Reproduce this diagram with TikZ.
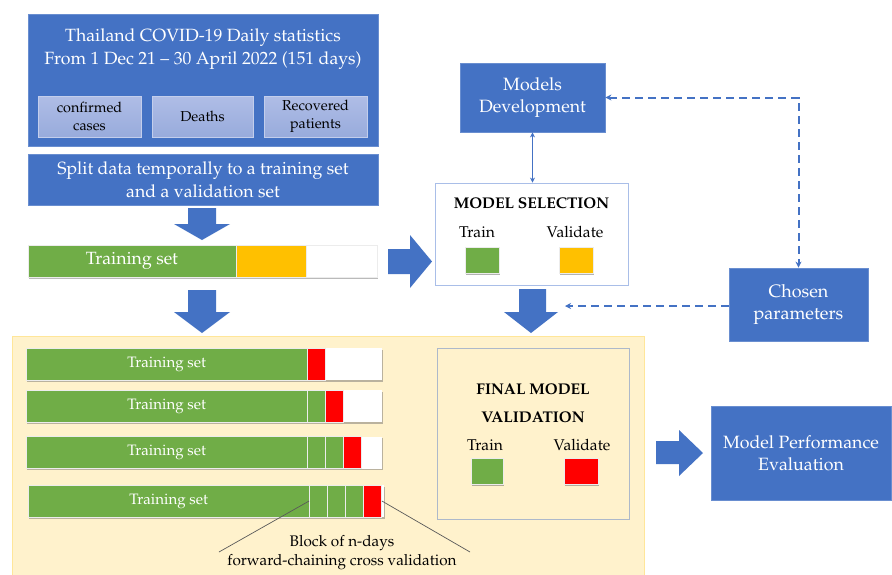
\documentclass[tikz,border=0pt]{standalone}
\usepackage[T1]{fontenc}
\usepackage{mathpazo}
\usetikzlibrary{shadows,arrows.meta}
\definecolor{cblue}{HTML}{4472C4}
\definecolor{cgreen}{HTML}{70AD47}
\definecolor{cyellow}{HTML}{FFC000}
\definecolor{cred}{HTML}{FF0000}
\definecolor{bgyel}{HTML}{FFF2CC}
\definecolor{bgyelline}{HTML}{FFE699}
\definecolor{subtop}{HTML}{AFBDE6}
\definecolor{subbot}{HTML}{98ABDC}
\definecolor{subline}{HTML}{C3CEEC}
\definecolor{msline}{HTML}{A9BEE8}
\definecolor{fmline}{HTML}{ADB9CA}
\tikzset{
  bluebox/.style={fill=cblue, draw=cblue!80!white, line width=0.8pt, text=white, align=center, inner sep=0pt, font=\fontsize{17.8}{21.5}\selectfont},
  subbox/.style={top color=subtop, bottom color=subbot, draw=subline, line width=0.8pt, align=center, inner sep=0pt, font=\fontsize{14.4}{18}\selectfont},
  cell/.style={draw=white!85!gray, line width=0.8pt, inner sep=0pt},
  sqshadow/.style={drop shadow={shadow xshift=1.2pt, shadow yshift=-1.8pt, opacity=0.5, fill=black!60}},
  blockarrow/.style={fill=cblue, draw=none},
  dashconn/.style={draw=cblue, line width=2pt, dash pattern=on 8pt off 5pt},
  lbl/.style={font=\fontsize{15.6}{18}\selectfont, inner sep=0pt},
  ttl/.style={font=\bfseries\fontsize{15.5}{28}\selectfont, align=center, inner sep=0pt},
}
\begin{document}
\begin{tikzpicture}[x=1pt,y=-1pt]
\useasboundingbox (0,0) rectangle (892,574);
\fill[white] (0,0) rectangle (892,574);

% top data box
\node[bluebox, minimum width=350, minimum height=132] (data) at (203,80) {};
\node[text=white, align=center, inner sep=0pt, font=\fontsize{17.7}{23}\selectfont] (title) at (203,49) {Thailand COVID-19 Daily statistics\\From 1 Dec 21 -- 30 April 2022 (151 days)};
\node[subbox, minimum width=103, minimum height=41] (conf) at (89.5,116.5) {confirmed\\cases};
\node[subbox, minimum width=101, minimum height=41] (death) at (202.5,116.5) {Deaths};
\node[subbox, minimum width=103, minimum height=41] (recov) at (315.5,116.5) {Recovered\\patients};

\node[bluebox, minimum width=350, minimum height=51, font=\fontsize{17.7}{23}\selectfont] (split) at (203,179.5) {Split data temporally to a training set\\and a validation set};

% block arrows
\fill[blockarrow] (188,208) -- (216,208) -- (216,224) -- (230,224) -- (202,240) -- (174,224) -- (188,224) -- cycle;
\fill[blockarrow] (188,290) -- (216,290) -- (216,312) -- (230,312) -- (202,333) -- (174,312) -- (188,312) -- cycle;
\fill[blockarrow] (388,249) -- (410,249) -- (410,235) -- (432,261.5) -- (410,288) -- (410,274) -- (388,274) -- cycle;
\fill[blockarrow] (519,289) -- (546,289) -- (546,312) -- (558,312) -- (531,333) -- (504,312) -- (519,312) -- cycle;
\fill[blockarrow] (656,441) -- (679,441) -- (679,430) -- (703,453) -- (679,476) -- (679,464) -- (656,464) -- cycle;

% training bar
\fill[black!60, opacity=0.45] (29.2,246.6) rectangle (378.2,278.6);
\node[cell, fill=cgreen, minimum width=208, minimum height=32, text=white, font=\fontsize{17.7}{20}\selectfont] (tr) at (132,261) {Training set};
\node[cell, fill=cyellow, minimum width=70, minimum height=32] (va) at (271,261) {};
\node[cell, fill=white, minimum width=71, minimum height=32] (rest) at (341.5,261) {};

% models development
\node[bluebox, minimum width=145, minimum height=69] (md) at (532.5,97.5) {Models\\Development};

% model selection
\node[draw=msline, fill=white, line width=0.8pt, minimum width=193, minimum height=102, inner sep=0pt] (ms) at (531.5,234) {};
\node[ttl] (mst) at (531.5,203) {MODEL SELECTION};
\node[lbl] (mstr) at (477,232) {Train};
\node[lbl] (msva) at (575,232) {Validate};
\node[sqshadow, fill=cgreen, draw=white!85!gray, minimum width=34, minimum height=26, inner sep=0pt] (msg) at (482,260) {};
\node[sqshadow, fill=cyellow, draw=white!85!gray, minimum width=34, minimum height=26, inner sep=0pt] (msy) at (576,260) {};

\draw[cblue, line width=1.5pt, {Stealth[length=5pt,width=5pt]}-{Stealth[length=5pt,width=5pt]}] (md.south) -- (md.south |- ms.north);

% chosen parameters
\node[bluebox, minimum width=139, minimum height=73, font=\fontsize{18}{22}\selectfont] (cp) at (798.5,304.5) {Chosen\\parameters};
\draw[dashconn, {Stealth[length=6pt,width=6pt]}-{Stealth[length=6pt,width=6pt]}] (md.east) -| (cp.north);
\coordinate (cpend) at (565,306);
\draw[dashconn, -{Stealth[length=6pt,width=6pt]}] (cp.west |- cpend) -- (cpend);

% yellow background
\node[fill=bgyel, draw=bgyelline, line width=1pt, minimum width=632, minimum height=242, inner sep=0pt] (bg) at (328,457) {};

% lower bars
\foreach \y/\xo in {364/0, 406/0, 452.5/0, 501/2} {
  \fill[black!60, opacity=0.45] (26+\xo+1.2,\y-16+1.6) rectangle (382+\xo+1.2,\y+16+1.6);
  \fill[white] (26+\xo,\y-16) rectangle (382+\xo,\y+16);
}
\foreach \y/\xo/\n [count=\r] in {364/0/0, 406/0/1, 452.5/0/2, 501/2/3} {
  \node[cell, fill=cgreen, minimum width=281.5, minimum height=32, text=white, font=\fontsize{15.1}{18}\selectfont] (tg\r) at (166.75+\xo,\y) {Training set};
  \ifnum\n>0
    \foreach \k in {1,...,\n} {
      \node[cell, fill=cgreen, minimum width=18, minimum height=32] (c\r\k) at (298.5+18*\k+\xo,\y) {};
    }
  \fi
  \node[cell, fill=cred, minimum width=18, minimum height=32] (rd\r) at (316.5+18*\n+\xo,\y) {};
}

% final model validation
\node[draw=fmline, line width=0.8pt, minimum width=192, minimum height=171, inner sep=0pt] (fm) at (533,433.5) {};
\node[ttl] (fmt) at (533,403) {FINAL MODEL\\VALIDATION};
\node[lbl] (fmtr) at (485,445) {Train};
\node[lbl] (fmva) at (582,445) {Validate};
\node[sqshadow, fill=cgreen, draw=white!85!gray, minimum width=32, minimum height=26, inner sep=0pt] (fmg) at (487,471) {};
\node[sqshadow, fill=cred, draw=white!85!gray, minimum width=34, minimum height=26, inner sep=0pt] (fmr) at (581,471) {};

% model performance
\node[bluebox, minimum width=180, minimum height=94] (mpe) at (801,453) {Model Performance\\Evaluation};

% annotation
\coordinate (a1) at (219,552);
\coordinate (a2) at (470,552);
\draw[black!65, line width=0.7pt] (c41.west) -- (a1);
\draw[black!65, line width=0.7pt] (rd4.east) -- (a2);
\node[align=center, inner sep=0pt, font=\fontsize{15.3}{19}\selectfont] (blk) at (342,552.5) {Block of n-days\\forward-chaining cross validation};
\end{tikzpicture}
\end{document}
